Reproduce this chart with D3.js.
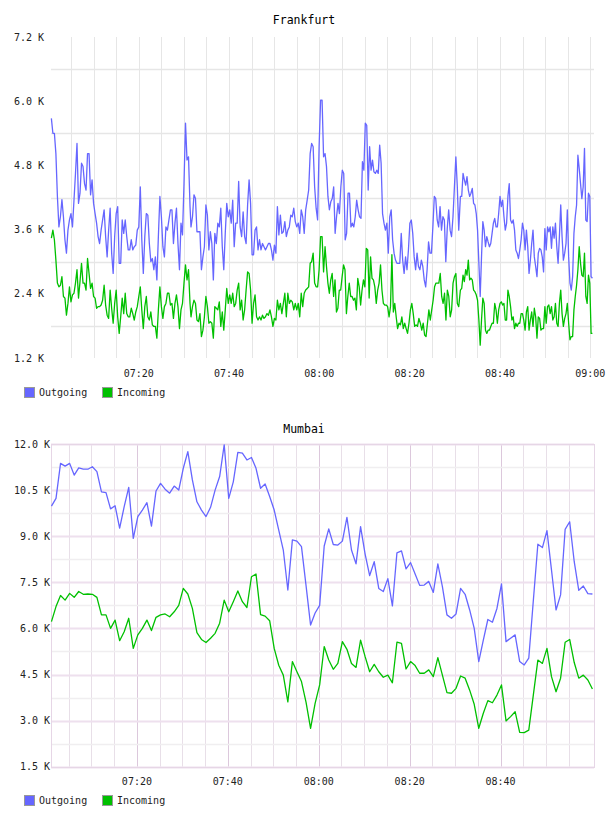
<!DOCTYPE html>
<html><head><meta charset="utf-8">
<script src="https://cdn.jsdelivr.net/npm/d3@7/dist/d3.min.js"></script>
<style>body{margin:0;background:#fff}svg{display:block}</style>
</head><body>
<script>
// ---------- shared ----------
const seriesNames = ["Outgoing", "Incoming"];
const seriesColors = ["#6666ff", "#00c000"];

// ---------- Frankfurt (values in K, ~20 s samples, four half-hour stretches) ----------
const frankfurtSegments = [["07:00:40","07:31:22"],["07:31:35","08:01:16"],["08:01:35","08:30:52"],["08:31:14","09:00:28"]];
const frankfurtOut1 = [5.68,5.40,5.40,5.02,4.22,3.65,3.84,4.16,3.84,3.41,3.16,3.59,3.78,3.90,3.65,4.15,4.65,5.21,4.09,4.28,4.84,4.78,4.46,4.34,5.02,5.02,4.25,4.53,4.09,3.90,3.72,3.47,3.34,3.59,3.78,3.97,3.47,3.09,3.59,4.00,3.16,2.78,3.47,3.90,4.03,2.97,2.97,3.78,3.53,3.78,3.47,3.22,3.22,3.41,3.22,3.28,3.31,3.59,3.65,4.40,3.41,2.78,3.47,3.90,3.87,3.34,3.00,3.06,2.85,3.09,2.66,3.47,4.22,3.84,3.28,3.09,3.65,3.59,3.78,3.97,3.97,3.34,3.72,4.00,3.34,2.85,3.72,3.50,4.46,5.59,4.90,4.96,4.03];
const frankfurtOut2 = [3.65,3.84,4.25,4.18,3.56,3.56,3.56,2.85,3.09,3.28,4.06,3.87,3.22,3.56,3.34,2.66,3.53,3.34,3.72,3.65,4.00,3.28,2.85,3.53,4.09,3.84,3.97,3.72,4.15,3.28,3.72,3.72,4.50,3.65,3.47,3.93,3.47,3.34,4.06,4.53,4.09,3.13,3.13,3.59,3.65,3.22,3.41,3.22,3.34,3.28,3.22,3.28,3.34,3.34,3.22,3.03,3.31,3.16,4.03,3.50,3.87,3.53,3.56,3.75,3.47,3.59,3.65,3.87,3.84,4.00,3.75,3.65,3.72,3.53,3.97,3.84,3.53,3.97,4.15,4.34,5.02,5.21,5.15,4.40,4.00,3.78,5.15,6.02,6.02,4.96,5.02];
const frankfurtOut3 = [4.78,4.22,3.97,4.12,4.18,4.40,3.53,3.84,4.09,3.90,4.40,4.71,4.65,3.41,3.53,4.28,4.28,3.65,3.72,3.65,3.84,4.15,3.97,3.84,3.81,4.87,4.71,5.59,5.55,4.34,5.15,4.71,4.90,4.68,4.65,4.71,4.65,5.18,4.84,3.90,3.72,3.59,3.72,3.16,3.84,3.97,3.41,3.16,3.03,2.97,2.97,2.97,3.53,3.03,2.78,3.09,2.85,3.22,3.72,3.78,3.53,3.09,2.85,3.16,2.91,2.85,3.03,2.91,2.66,2.53,2.85,3.37,3.16,3.16,3.65,4.22,4.18,3.78,3.65,4.03,3.59,3.84,3.78,3.00,3.62,3.97,3.59,3.47,3.84,4.40,4.96,4.40,3.59];
const frankfurtOut4 = [4.22,4.22,4.65,4.53,4.43,4.59,4.34,4.22,4.28,4.37,4.09,4.06,3.90,3.59,2.97,2.35,3.09,3.75,3.59,3.28,3.47,3.37,3.28,3.34,3.53,3.72,3.81,3.65,3.65,3.90,4.22,4.03,4.15,3.84,3.59,3.72,4.22,4.46,3.78,3.72,3.78,3.59,3.22,3.16,3.06,3.22,3.41,3.72,3.59,3.22,3.59,3.28,2.78,3.03,3.34,3.59,3.09,2.91,2.72,3.16,3.25,3.22,3.09,2.81,3.62,3.22,3.65,3.56,3.65,3.25,3.65,3.44,3.72,3.28,2.97,3.47,4.06,3.47,3.03,3.16,3.34,3.97,3.09,2.60,2.47,2.72,3.53,3.84,4.06,4.99,4.74,4.46,4.18,4.40,5.12,3.78,3.75,4.28,4.22,2.72,2.69];
const frankfurtIn1 = [3.44,3.59,3.41,3.03,2.60,2.53,2.56,2.72,2.35,2.32,2.00,2.22,2.53,2.25,2.38,2.41,2.60,2.85,2.32,2.63,2.97,2.60,2.60,2.47,3.06,2.78,2.50,2.60,2.35,2.32,2.13,2.16,2.16,2.19,2.28,2.56,2.19,2.00,1.94,2.47,2.13,1.85,2.22,2.47,1.97,1.66,1.97,2.32,2.03,2.41,2.03,1.97,1.97,2.13,2.03,1.91,2.06,2.16,2.35,2.53,2.10,1.75,2.16,2.35,1.97,1.91,2.06,1.82,1.79,1.79,1.57,2.10,2.53,2.16,1.94,2.16,2.22,2.41,2.41,2.19,2.22,1.94,2.22,2.38,2.16,1.75,2.10,2.22,2.60,2.94,2.66,2.85,2.22];
const frankfurtIn2 = [1.97,2.16,2.28,2.22,1.91,1.88,2.03,1.60,1.72,1.97,2.35,2.16,1.85,1.88,1.85,1.57,2.16,2.13,2.10,2.25,1.79,2.06,1.72,2.10,2.50,2.22,2.38,2.22,2.41,2.16,2.22,2.47,2.60,2.10,2.28,1.91,2.10,2.47,2.81,2.78,2.47,1.85,2.22,2.38,1.97,1.91,1.97,1.91,2.00,1.94,1.97,2.03,2.00,2.10,1.97,1.79,1.94,1.91,2.28,2.10,2.22,2.03,2.22,2.41,1.97,2.41,2.22,2.28,2.25,2.10,2.22,2.10,2.22,1.97,2.41,2.16,2.41,2.47,2.50,2.53,2.97,3.00,3.16,2.60,2.53,2.53,2.85,3.47,3.47,2.81,3.28];
const frankfurtIn3 = [2.91,2.60,2.41,2.66,2.78,2.35,2.66,2.06,2.13,2.47,2.47,2.72,2.94,2.85,2.03,2.35,2.60,2.35,2.35,2.28,2.32,2.10,2.69,2.53,2.19,2.47,2.66,2.53,3.25,3.22,2.32,3.09,2.69,2.66,2.53,2.22,2.47,2.60,2.94,2.47,2.22,2.19,2.19,2.16,1.97,2.16,3.13,2.06,2.22,1.97,1.75,1.85,1.82,1.97,1.75,1.85,1.75,1.66,1.85,2.10,2.22,2.03,1.79,1.82,1.79,1.94,1.85,1.72,1.85,1.63,1.60,1.85,2.10,1.91,2.10,2.28,2.53,2.60,2.60,2.60,2.78,2.35,2.22,2.41,1.91,2.47,2.35,1.97,2.10,2.60,2.72,2.78,2.22,2.16];
const frankfurtIn4 = [2.47,2.50,2.75,2.63,2.85,2.75,3.03,2.66,2.69,2.66,2.47,2.44,2.38,2.28,1.91,1.44,1.91,2.32,2.22,1.72,1.66,1.72,1.72,1.79,1.85,1.85,2.22,2.10,1.85,2.10,2.22,2.25,2.19,2.22,1.91,1.91,2.47,2.35,2.16,1.91,1.97,1.75,1.85,1.79,1.85,1.85,2.03,2.03,1.91,1.72,2.06,2.16,1.72,1.91,2.06,1.79,2.13,1.97,1.57,1.97,1.94,1.72,1.75,1.75,2.16,1.85,2.16,2.19,2.03,2.16,1.91,1.97,2.22,1.85,1.79,2.22,2.47,2.03,1.79,1.94,2.03,2.22,1.85,1.54,1.60,1.60,2.10,2.35,2.56,2.85,3.28,2.97,2.75,2.72,3.16,2.35,2.22,2.75,2.60,1.66,1.66];
const frankfurtXTicks = ["07:20","07:40","08:00","08:20","08:40","09:00"];
const frankfurtYTicks = [1.2, 2.4, 3.6, 4.8, 6.0, 7.2];
const frankfurtYGrid = [1.8, 3.0, 4.2, 5.4, 6.6];

// ---------- Mumbai (values in K, one sample per minute from 07:01:12) ----------
const mumbaiStart = "07:01:12";
const mumbaiOut = [9.98,10.23,11.37,11.28,11.37,10.99,11.22,11.18,11.18,11.26,11.10,10.44,10.42,9.89,9.99,9.26,9.96,10.59,8.93,9.64,9.85,10.09,9.33,10.47,10.72,10.53,10.40,10.63,10.50,11.21,11.75,10.83,10.12,9.85,9.64,9.94,10.50,10.94,11.97,10.23,10.77,11.73,11.70,11.48,11.56,11.21,10.56,10.70,10.29,9.85,9.20,8.55,7.25,8.88,8.84,8.66,7.40,6.11,6.50,6.75,8.68,9.24,8.73,8.71,8.84,9.61,8.55,8.10,9.31,8.42,7.72,8.17,7.30,7.20,7.62,6.73,8.46,8.52,7.94,8.14,7.77,7.40,7.41,7.53,7.17,8.10,7.36,6.44,6.33,6.47,7.30,7.11,6.60,6.00,4.92,5.62,6.29,6.20,6.65,7.45,5.57,5.68,5.79,4.92,4.81,5.03,6.90,8.74,8.63,9.18,7.90,6.60,7.09,9.22,9.47,8.17,7.24,7.38,7.13,7.12];
const mumbaiIn = [6.22,6.71,7.07,6.92,7.14,7.01,7.20,7.11,7.12,7.11,7.01,6.44,6.44,6.00,6.27,5.60,5.89,6.33,5.35,5.79,6.00,6.27,5.93,6.36,6.44,6.47,6.38,6.54,6.75,7.30,7.12,6.65,5.86,5.64,5.54,5.68,5.84,6.17,6.92,6.54,6.87,7.22,6.87,6.68,7.68,7.77,6.45,6.40,6.25,5.35,4.80,4.48,3.61,4.92,4.59,4.27,3.60,2.75,3.56,4.16,5.41,4.97,4.67,4.86,5.57,5.32,4.86,4.73,5.62,5.08,4.59,4.83,4.59,4.41,4.48,4.23,5.55,5.51,4.68,4.92,4.79,4.54,4.54,4.65,4.43,5.05,4.48,3.91,3.89,4.05,4.45,4.38,3.99,3.53,2.75,3.24,3.65,3.58,3.83,4.16,2.99,3.13,3.29,2.62,2.61,2.69,3.83,4.97,4.86,5.35,4.43,3.94,4.38,5.55,5.64,4.89,4.38,4.48,4.32,4.03];
const mumbaiXTicks = ["07:20","07:40","08:00","08:20","08:40"];
const mumbaiYTicks = [1.5, 3.0, 4.5, 6.0, 7.5, 9.0, 10.5, 12.0];
const mumbaiYMinor = [2.25, 3.75, 5.25, 6.75, 8.25, 9.75, 11.25];

// ---------- helpers ----------
const tm = s => { const p = s.split(":").map(Number); return new Date(2000, 0, 1, p[0], p[1], p[2] || 0); };
const fmtK = v => d3.format(".1f")(v) + " K";
const FONT = "'DejaVu Sans Mono', monospace";

function segSeries(segs, arrays) {
  const out = [];
  arrays.forEach((vals, k) => {
    const a = +tm(segs[k][0]), b = +tm(segs[k][1]);
    vals.forEach((v, i) => out.push({ t: new Date(a + (b - a) * i / (vals.length - 1)), v }));
  });
  return out;
}
function minuteSeries(start, vals) {
  const a = +tm(start);
  return vals.map((v, i) => ({ t: new Date(a + i * 60000), v }));
}

const svg = d3.select("body").append("svg").attr("width", 608).attr("height", 816);

function drawChart(c) {
  const g = svg.append("g");
  const x = d3.scaleTime().domain(c.xDomain).range([c.left, c.right]);
  const y = d3.scaleLinear().domain(c.yDomain).range([c.bottom, c.top]);
  const px = v => Math.round(v) + 0.5;

  // title
  g.append("text").attr("x", 304).attr("y", c.titleY).attr("text-anchor", "middle")
    .attr("font-family", FONT).attr("font-size", 11.5).attr("fill", "#000").text(c.title);

  // vertical grid (every 5 minutes)
  let mins = d3.timeMinute.every(5).range(c.xDomain[0], c.xDomain[1]);
  if (c.border) mins = mins.filter(d => x(d) < c.right - 3);
  g.append("g").selectAll("line").data(mins).join("line")
    .attr("x1", d => px(x(d))).attr("x2", d => px(x(d)))
    .attr("y1", c.top).attr("y2", c.bottom)
    .attr("stroke", d => (c.majorV && d.getMinutes() % 20 === 0) ? c.majorV : c.gridV)
    .attr("stroke-width", 1);

  // horizontal grid
  if (c.yMinor) g.append("g").selectAll("line").data(c.yMinor).join("line")
    .attr("x1", c.left).attr("x2", c.right).attr("y1", d => px(y(d))).attr("y2", d => px(y(d)))
    .attr("stroke", c.gridHMinor).attr("stroke-width", 1.5);
  g.append("g").selectAll("line").data(c.yGrid).join("line")
    .attr("x1", c.left).attr("x2", c.right).attr("y1", d => px(y(d))).attr("y2", d => px(y(d)))
    .attr("stroke", c.gridH).attr("stroke-width", c.gridHW);

  if (c.border) {
    g.append("rect").attr("x", px(c.left)).attr("y", px(c.top))
      .attr("width", Math.round(c.right) - Math.round(c.left)).attr("height", Math.round(c.bottom) - Math.round(c.top))
      .attr("fill", "none").attr("stroke", c.border).attr("stroke-width", 1);
  }

  // series lines
  const line = d3.line().x(d => x(d.t)).y(d => y(d.v));
  c.series.forEach((s, i) => {
    g.append("path").datum(s).attr("d", line).attr("fill", "none")
      .attr("stroke", seriesColors[i]).attr("stroke-width", 1.3).attr("stroke-linejoin", "round");
  });

  // y labels
  g.append("g").selectAll("text").data(c.yTicks).join("text")
    .attr("x", c.yLabelX).attr("y", d => y(d) + 3.5).attr("text-anchor", "end")
    .attr("font-family", FONT).attr("font-size", 10).attr("fill", "#222").text(fmtK);

  // x labels
  g.append("g").selectAll("text").data(c.xTicks).join("text")
    .attr("x", d => x(tm(d))).attr("y", c.xLabelY).attr("text-anchor", "middle")
    .attr("font-family", FONT).attr("font-size", 10).attr("fill", "#222").text(d => d);

  // legend
  const lg = g.append("g").attr("transform", `translate(0,${c.legendY})`);
  const legendX = [24, 102];
  seriesNames.forEach((n, i) => {
    lg.append("rect").attr("x", legendX[i] + 0.5).attr("y", -4.5).attr("width", 10).attr("height", 10)
      .attr("fill", seriesColors[i]).attr("stroke", "#999").attr("stroke-width", 1);
    lg.append("text").attr("x", legendX[i] + 15).attr("y", 4).attr("font-family", FONT)
      .attr("font-size", 10).attr("fill", "#222").text(n);
  });
}

drawChart({
  title: "Frankfurt", titleY: 24,
  left: 51, right: 594, top: 37, bottom: 358,
  xDomain: [tm("07:00:35"), tm("09:00:49")], yDomain: [1.2, 7.2],
  gridV: "#e6e6e6", gridH: "#e6e6e6", gridHW: 1.3,
  yGrid: frankfurtYGrid, yTicks: frankfurtYTicks, xTicks: frankfurtXTicks,
  yLabelX: 44, xLabelY: 377, legendY: 392,
  series: [
    segSeries(frankfurtSegments, [frankfurtOut1, frankfurtOut2, frankfurtOut3, frankfurtOut4]),
    segSeries(frankfurtSegments, [frankfurtIn1, frankfurtIn2, frankfurtIn3, frankfurtIn4])
  ]
});

drawChart({
  title: "Mumbai", titleY: 433,
  left: 51, right: 594, top: 444, bottom: 766.7,
  xDomain: [tm("07:01:06"), tm("09:00:33")], yDomain: [1.5, 12],
  gridV: "#e8dfe8", majorV: "#dcc8dc", gridH: "#eee0ee", gridHW: 2, gridHMinor: "#f0eef0",
  border: "#e6d6e6",
  yGrid: mumbaiYTicks, yMinor: mumbaiYMinor, yTicks: mumbaiYTicks, xTicks: mumbaiXTicks,
  yLabelX: 50, xLabelY: 785, legendY: 800,
  series: [minuteSeries(mumbaiStart, mumbaiOut), minuteSeries(mumbaiStart, mumbaiIn)]
});
</script>
</body></html>
